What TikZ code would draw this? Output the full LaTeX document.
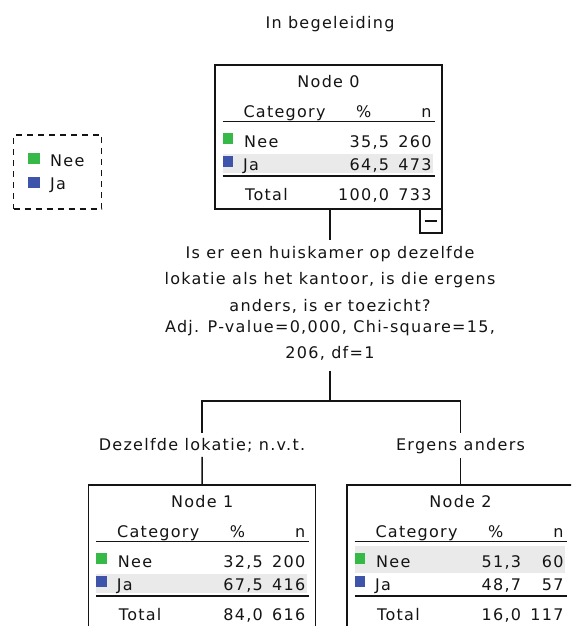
\documentclass[tikz,border=0pt]{standalone}
\usepackage{fontspec}
\newfontfamily\spss{DejaVu Sans}[LetterSpace=8.0]
\definecolor{neegreen}{RGB}{55,185,72}
\definecolor{jablue}{RGB}{62,84,170}
\definecolor{hlgray}{RGB}{234,234,234}
\definecolor{ink}{RGB}{20,20,20}
\tikzset{
  txt/.style={inner sep=0pt, font=\spss\fontsize{16}{26.5}\selectfont, text=ink},
  box/.style={draw=ink, line width=1.5pt, inner sep=0pt, minimum width=227pt, minimum height=144pt},
  rulel/.style={draw=ink, line width=1.8pt},
  conn/.style={draw=ink, line width=1.5pt},
  hl/.style={fill=hlgray},
  neesq/.style={fill=neegreen},
  jasq/.style={fill=jablue},
}
% #1 prefix, #2 title, #3 nee pct, #4 nee n, #5 ja pct, #6 ja n, #7 tot pct, #8 tot n, #9 highlighted row
\newcommand\spsstable[9]{%
  \ifnum#9=1
    \fill[hl] (7.7,61) rectangle (218.3,88);
  \else
    \fill[hl] (7.7,88.5) rectangle (218.3,107.7);
  \fi
  \node[txt, anchor=base] (#1-title) at (113.5,22) {#2};
  \node[txt, anchor=base west] (#1-cat) at (28.3,52) {Category};
  \node[txt, anchor=base] (#1-pct) at (148.7,52) {\%};
  \node[txt, anchor=base east] (#1-n) at (216.7,52) {n};
  \draw[rulel] (7.7,56.5) -- (220,56.5);
  \fill[neesq] (7.7,68) rectangle (18.3,78.5);
  \node[txt, anchor=base west] (#1-nee) at (29,82) {Nee};
  \node[txt, anchor=base east] (#1-neep) at (174.3,82) {#3};
  \node[txt, anchor=base east] (#1-neen) at (216.7,82) {#4};
  \fill[jasq] (7.7,91) rectangle (18.3,102);
  \node[txt, anchor=base west] (#1-ja) at (28,105) {Ja};
  \node[txt, anchor=base east] (#1-jap) at (174.3,105) {#5};
  \node[txt, anchor=base east] (#1-jan) at (216.7,105) {#6};
  \draw[rulel] (7.7,111) -- (220,111);
  \node[txt, anchor=base west] (#1-tot) at (30,135) {Total};
  \node[txt, anchor=base east] (#1-totp) at (174.3,135) {#7};
  \node[txt, anchor=base east] (#1-totn) at (216.7,135) {#8};
}
\begin{document}
\begin{tikzpicture}[x=1pt,y=-1pt]
\path[use as bounding box, clip] (0,0) rectangle (571,626);
\fill[white] (0,0) rectangle (571,626);

% title
\node[txt, anchor=base] (title) at (330,29) {In begeleiding};

% legend
\node[draw=ink, line width=1.5pt, dash pattern=on 6pt off 5pt, inner sep=0pt,
      minimum width=88pt, minimum height=74pt] (legend) at (57.5,172) {};
\fill[neesq] (28.3,153) rectangle (39.5,164);
\node[txt, anchor=base west] (legnee) at (50,166.5) {Nee};
\fill[jasq] (28.3,177) rectangle (39.5,187.5);
\node[txt, anchor=base west] (legja) at (50,189.5) {Ja};

% node 0
\begin{scope}[shift={(215,65)}]
  \spsstable{t0}{Node 0}{35,5}{260}{64,5}{473}{100,0}{733}{2}
\end{scope}
\node[box] (n0) at (328.5,137) {};
\node[draw=ink, line width=1.5pt, inner sep=0pt, minimum width=22pt, minimum height=24pt] (n0m) at (431,221) {};
\draw[line width=1.3pt, ink] ([xshift=-6.3pt]n0m.center) -- ([xshift=6.3pt]n0m.center);

% split text
\node[txt, align=center, anchor=north, inner ysep=6pt] (q) at (330,240)
  {Is er een huiskamer op dezelfde\\lokatie als het kantoor, is die ergens\\anders, is er toezicht?};
\node[txt, align=center, anchor=north, inner ysep=10pt] (stat) at (330,310)
  {Adj. P-value=0,000, Chi-square=15,\\206, df=1};

% branch labels
\node[txt, anchor=base, inner ysep=4.8pt] (l1) at (202,450) {Dezelfde lokatie; n.v.t.};
\node[txt, anchor=base, inner ysep=4.8pt] (l2) at (460.5,450) {Ergens anders};

% node 1
\begin{scope}[shift={(88.7,485)}]
  \spsstable{t1}{Node 1}{32,5}{200}{67,5}{416}{84,0}{616}{2}
\end{scope}
\node[box] (n1) at (202.2,557) {};

% node 2
\begin{scope}[shift={(347,485)}]
  \spsstable{t2}{Node 2}{51,3}{60}{48,7}{57}{16,0}{117}{1}
\end{scope}
\node[box] (n2) at (460.5,557) {};

% connectors
\coordinate (split) at (330,401);
\draw[conn] (q.north) -- (q.north |- n0.south);
\draw[conn] (stat.south) -- (split);
\draw[conn] (split) -| (l1.north);
\draw[conn] (split) -| (l2.north);
\draw[conn] (l1.south) -- (n1.north);
\draw[conn] (l2.south) -- (n2.north);
\end{tikzpicture}
\end{document}
